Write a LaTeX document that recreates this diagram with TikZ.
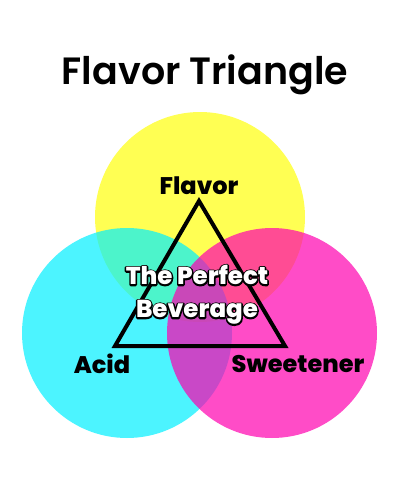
\documentclass[tikz,border=0pt]{standalone}
\usepackage{fontspec}
\setmainfont{Poppins}
\newfontfamily\titlefont{Poppins SemiBold}
\newfontfamily\heavyfont{Poppins ExtraBold}
\definecolor{yel}{RGB}{255,255,10}
\definecolor{cya}{RGB}{0,240,255}
\definecolor{mag}{RGB}{255,0,176}
\newcommand{\strokedtext}[1]{\special{pdf:literal direct 0 0 0 RG 3 w 1 j 1 Tr}#1\special{pdf:literal direct 0 Tr}}
\begin{document}
\begin{tikzpicture}[x=1pt,y=-1pt,
  circ/.style={fill opacity=0.7, draw=none},
  lbl/.style={font=\heavyfont\fontsize{24}{27}\selectfont, text=black, inner sep=0pt},
  ctr/.style={font=\heavyfont\fontsize{24.5}{33}\selectfont, text=white, align=center, inner sep=0pt},
  tri/.style={draw=black, line width=4pt, line join=miter}
]
\useasboundingbox (0,0) rectangle (400,480);
\fill[white] (0,0) rectangle (400,480);
\fill[circ, fill=yel] (200,217) circle (105pt);
\fill[circ, fill=cya] (127,333) circle (105pt);
\fill[circ, fill=mag] (272,333) circle (105pt);
\node[font=\titlefont\fontsize{38}{46}\selectfont, inner sep=0pt] (title) at (205,75) {Flavor Triangle};
\coordinate (A) at (199,201);
\coordinate (B) at (115,346);
\coordinate (C) at (285,346);
\draw[tri] (A) -- (B) -- (C) -- cycle;
\node[lbl] (flavor) at (199,186) {Flavor};
\node[lbl] (acid) at (102,364) {Acid};
\node[lbl] (sweet) at (298,364) {Sweetener};
\node[ctr, text=black] (centerline) at (197,295) {\strokedtext{The Perfect}\\\strokedtext{Beverage}};
\node[ctr] (center) at (197,295) {The Perfect\\Beverage};
\end{tikzpicture}
\end{document}
